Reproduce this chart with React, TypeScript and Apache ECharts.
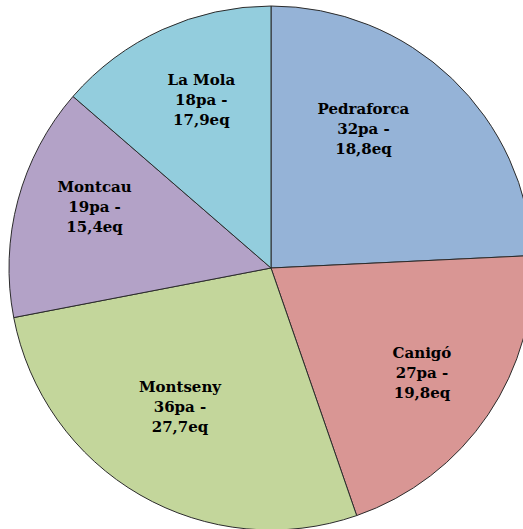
import React, { useEffect, useRef } from "react";
import * as echarts from "echarts";

const names = ["Pedraforca", "Canigó", "Montseny", "Montcau", "La Mola"];
const paValues = [32, 27, 36, 19, 18];
const eqLabels = ["18,8", "19,8", "27,7", "15,4", "17,9"];
const colors = ["#95B3D7", "#D99694", "#C3D69B", "#B3A2C7", "#93CDDD"];
// label nudges from the default inside position (pixels)
const labelShift: [number, number][] = [
  [0, -42],
  [40, 30],
  [-24, 23],
  [-47, -26],
  [-14, -46],
];

export default function App() {
  const ref = useRef<HTMLDivElement>(null);
  useEffect(() => {
    document.body.style.margin = "0";
    const chart = echarts.init(ref.current!, undefined, { renderer: "svg" });
    chart.setOption({
      animation: false,
      backgroundColor: "#ffffff",
      series: [
        {
          type: "pie",
          center: [271, 268],
          radius: 262,
          startAngle: 90,
          clockwise: true,
          avoidLabelOverlap: false,
          data: names.map((n, i) => ({
            name: n,
            value: paValues[i],
            itemStyle: { color: colors[i] },
          })),
          itemStyle: { borderColor: "#2b2b2b", borderWidth: 1 },
          label: {
            show: true,
            position: "inside",
            formatter: (p: any) =>
              `${p.name}\n${paValues[p.dataIndex]}pa -\n${eqLabels[p.dataIndex]}eq`,
            fontFamily: "DejaVu Serif",
            fontWeight: "bold",
            fontSize: 15,
            lineHeight: 20,
            color: "#000000",
            align: "center",
          },
          labelLine: { show: false },
          labelLayout: (params: any) => ({
            dx: labelShift[params.dataIndex][0],
            dy: labelShift[params.dataIndex][1],
          }),
          emphasis: { disabled: true },
        },
      ],
    });
    return () => chart.dispose();
  }, []);
  return <div ref={ref} style={{ width: 523, height: 529 }} />;
}
